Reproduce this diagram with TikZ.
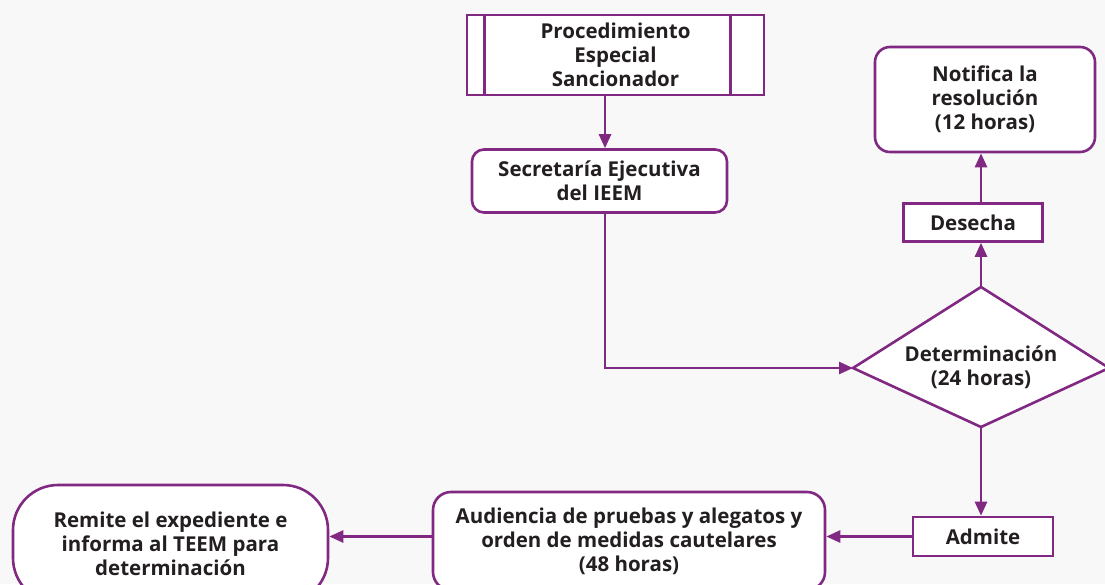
\documentclass[tikz,border=0pt]{standalone}
\usepackage{fontspec}
\setmainfont{Open Sans}
\usetikzlibrary{arrows.meta}
\definecolor{morado}{RGB}{128,40,130}
\definecolor{texto}{RGB}{35,31,32}
\definecolor{fondo}{RGB}{248,248,249}
\begin{document}
\begin{tikzpicture}[x=1pt,y=-1pt,
            line width=2.6pt,
            caja/.style = {draw=morado,
                fill=white,
                text=texto,
                font=\bfseries\fontsize{20.5}{24}\selectfont,
                align=center,
                inner sep=0pt,
                },
            flecha/.style = {draw=morado,
                -{Triangle[length=14pt,width=12pt]},
                }]
        
        % Fondo
        \fill[fondo] (0,0) rectangle (1105,584);
        \useasboundingbox (0,0) rectangle (1105,584);
        
        % Procedimiento
        \node[caja,minimum width=297pt,minimum height=80pt] (proc) at (615.5,55)
            {Procedimiento\\Especial\\Sancionador};
        \draw[morado] ([xshift=19pt]proc.north west) -- ([xshift=19pt]proc.south west);
        \draw[morado] ([xshift=-35pt]proc.north east) -- ([xshift=-35pt]proc.south east);
        
        % Secretaria
        \node[caja,rounded corners=12pt,minimum width=255pt,minimum height=63pt] (sec) at (599.5,181)
            {Secretaría Ejecutiva\\del IEEM};
        
        % Determinacion
        \coordinate (det-n) at (981,287);
        \coordinate (det-w) at (853,368);
        \coordinate (det-s) at (981,427);
        \coordinate (det-e) at (1109,368);
        \filldraw[morado,fill=white] (det-n) -- (det-e) -- (det-s) -- (det-w) -- cycle;
        \node[caja,draw=none,fill=none] (det) at (981,367) {Determinación\\(24 horas)};
        
        % Desecha
        \node[caja,minimum width=139pt,minimum height=38pt] (des) at (973,222.5) {Desecha};
        
        % Notifica
        \node[caja,rounded corners=15pt,minimum width=220pt,minimum height=105pt] (noti) at (985,99.5)
            {Notifica la\\resolución\\(12 horas)};
        
        % Admite
        \node[caja,minimum width=140pt,minimum height=39pt] (adm) at (983,536.5) {Admite};
        
        % Audiencia
        \node[caja,rounded corners=18pt,minimum width=392pt,minimum height=98pt] (aud) at (629,541)
            {Audiencia de pruebas y alegatos y\\orden de medidas cautelares\\(48 horas)};
        
        % Remite
        \node[caja,rounded corners=45pt,minimum width=315pt,minimum height=118pt] (rem) at (170.5,544)
            {Remite el expediente e\\informa al TEEM para\\determinación};
        
        % Flechas
        \coordinate (eje) at (605,0);
        \draw[flecha] (proc.south -| eje) -- (sec.north -| eje);
        \draw[flecha] (sec.south -| eje) |- (det-w);
        \draw[flecha] (det-n) -- (det-n |- des.south);
        \draw[flecha] (det-n |- des.north) -- (det-n |- noti.south);
        \draw[flecha] (det-s) -- (det-s |- adm.north);
        \draw[flecha] (adm.west) -- (adm.west -| aud.east);
        \draw[flecha] (aud.west |- adm.west) -- (rem.east |- adm.west);
        
        \end{tikzpicture}
\end{document}
